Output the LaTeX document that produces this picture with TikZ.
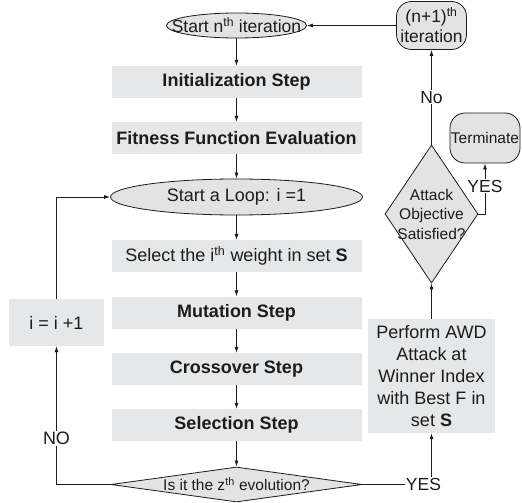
\documentclass[tikz,border=0pt]{standalone}
\usepackage{fontspec}
\setmainfont{Liberation Sans}
\usetikzlibrary{shapes.geometric,arrows.meta}
\definecolor{boxgray}{HTML}{E6E7E8}
\definecolor{shapegray}{HTML}{E3E3E4}
\definecolor{ink}{HTML}{1C1C1C}
\tikzset{
  big/.style={font=\fontsize{18}{22}\selectfont},
  mid/.style={font=\fontsize{17.5}{20}\selectfont},
  small/.style={font=\fontsize{15.5}{19.5}\selectfont},
  stepbox/.style={rectangle, fill=boxgray, minimum width=250pt, minimum height=32pt, inner sep=0pt, big, text=ink},
  oval/.style={ellipse, draw=ink, fill=shapegray, line width=0.8pt, inner sep=0pt},
  rhomb/.style={diamond, draw=ink, fill=shapegray, line width=0.8pt, inner sep=0pt},
  roundbox/.style={rectangle, rounded corners=15pt, draw=ink, fill=shapegray, line width=0.8pt, inner sep=0pt, align=center, text=ink},
  conn/.style={draw=ink, line width=0.8pt, -{Latex[length=6pt,width=4pt]}},
  lbl/.style={fill=white, inner sep=1pt, text=ink},
}
\begin{document}
\begin{tikzpicture}[x=1pt,y=-1pt]
\useasboundingbox[fill=white] (0,0) rectangle (522,503);
% central column
\node[oval, minimum width=140pt, minimum height=25pt,
  label={[mid,text=ink]center:{Start n\textsuperscript{th} iteration}}] (start) at (236.5,25.5) {};
\node[stepbox] (init) at (236.5,82) {\textbf{Initialization Step}};
\node[stepbox] (fit) at (236.5,138) {\textbf{Fitness Function Evaluation}};
\node[oval, minimum width=252pt, minimum height=36pt,
  label={[big,text=ink]center:{Start a Loop: i =1}}] (loop) at (236.5,197) {};
\node[stepbox] (sel) at (236.5,256) {Select the i\textsuperscript{th} weight in set \textbf{S}};
\node[stepbox] (mut) at (236.5,312.5) {\textbf{Mutation Step}};
\node[stepbox] (cross) at (236.5,369) {\textbf{Crossover Step}};
\node[stepbox] (selc) at (236.5,425) {\textbf{Selection Step}};
\node[rhomb, minimum width=251pt, minimum height=35pt,
  label={[small,text=ink]center:{Is it the z\textsuperscript{th} evolution?}}] (evo) at (236.5,484.5) {};
% left
\node[stepbox, minimum width=95pt, minimum height=47pt] (inc) at (56.5,322.5) {i = i +1};
% right
\node[stepbox, minimum width=127pt, minimum height=114pt, align=center] (perf) at (431.5,376)
  {Perform AWD\\Attack at\\Winner Index\\with Best F in\\set \textbf{S}};
\node[rhomb, minimum width=93pt, minimum height=138pt,
  label={[small,text=ink,align=center]center:{Attack\\Objective\\Satisfied?}}] (att) at (431.5,214) {};
\node[roundbox, minimum width=70pt, minimum height=50pt, small] (term) at (485,138) {Terminate};
\node[roundbox, minimum width=70pt, minimum height=48pt, mid] (next) at (431.5,25.5) {(n+1)\textsuperscript{th}\\iteration};
% connectors
\draw[conn] (start) -- (init);
\draw[conn] (init) -- (fit);
\draw[conn] (fit) -- (loop);
\draw[conn] (loop) -- (sel);
\draw[conn] (sel) -- (mut);
\draw[conn] (mut) -- (cross);
\draw[conn] (cross) -- (selc);
\draw[conn] (selc) -- (evo);
\draw[conn] (evo.west) -| node[lbl, big, pos=0.667]{NO} (inc.south);
\draw[conn] (inc.north) |- (loop.west);
\draw[conn] (evo.east) -| node[lbl, mid, pos=0.5, xshift=-8pt]{YES} (perf.south);
\draw[conn] (perf.north) -- (att.south);
\draw[conn] (att.north) -- node[lbl, mid]{No} (next.south);
\draw[conn] (att.east) -| node[lbl, mid, pos=0.775]{YES} (term.south);
\draw[conn] (next.west) -- (start.east);
\end{tikzpicture}
\end{document}
